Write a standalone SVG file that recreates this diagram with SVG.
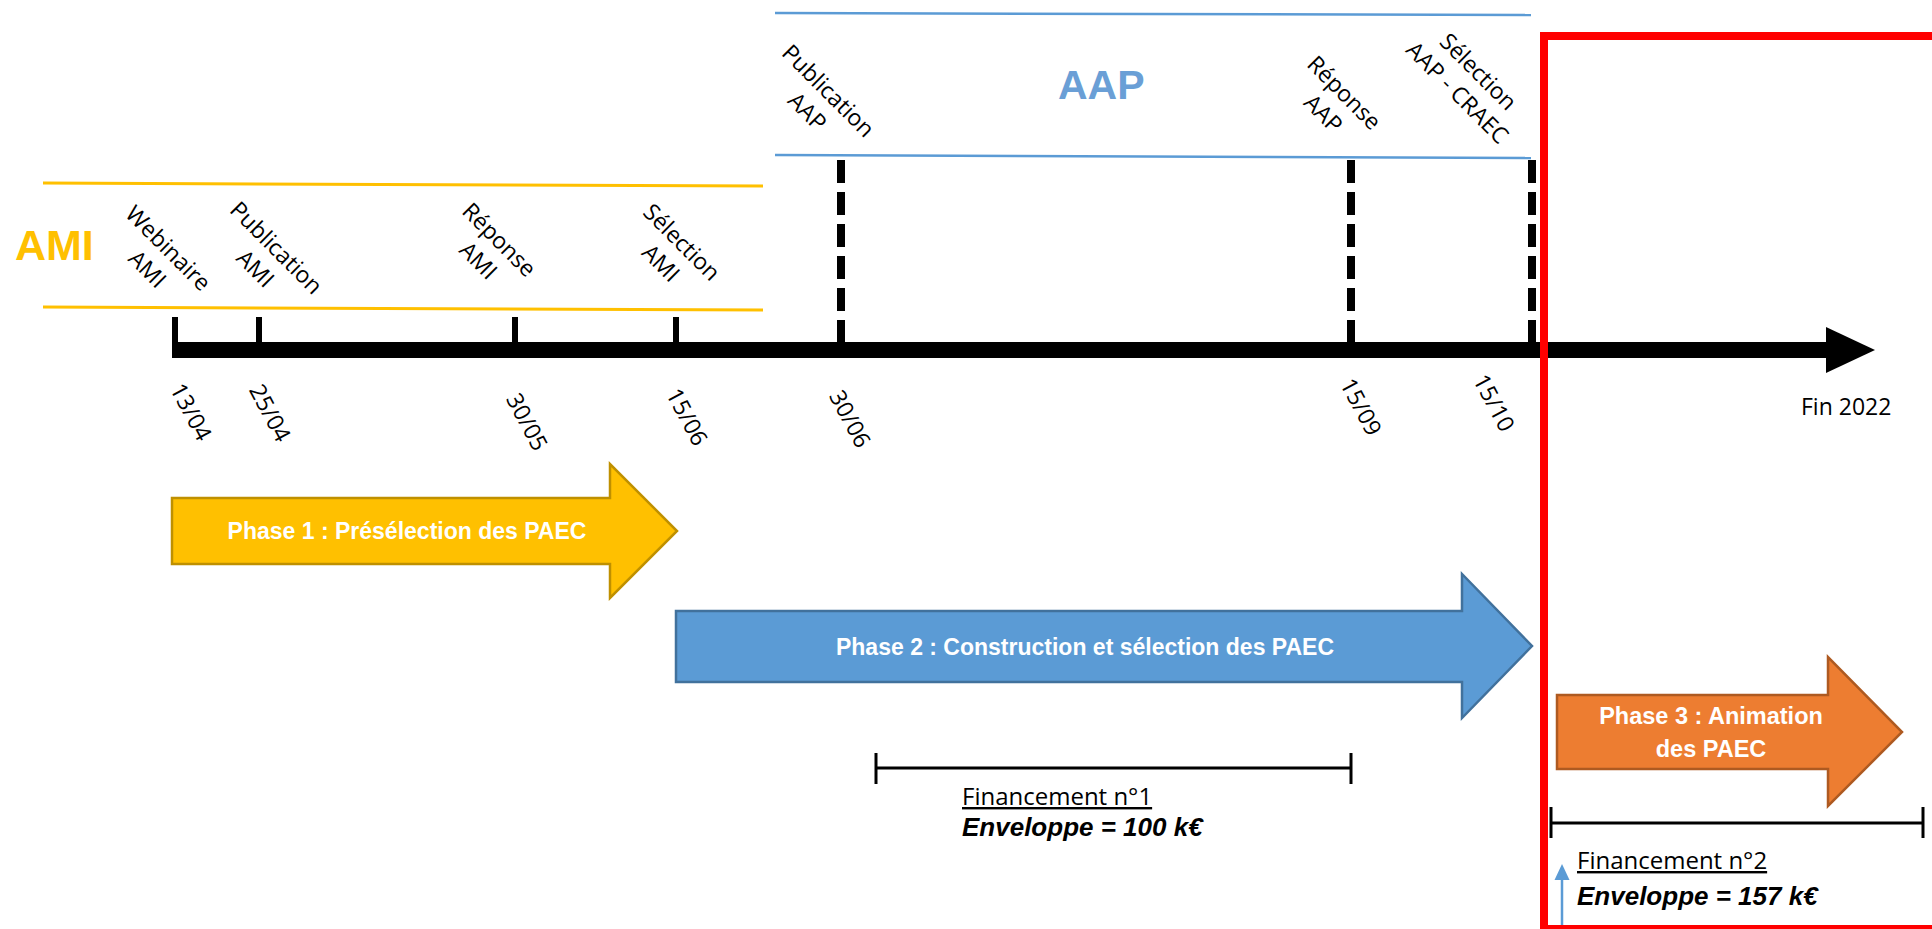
<svg xmlns="http://www.w3.org/2000/svg" width="1932" height="929" viewBox="0 0 1932 929">
<style>
.lbl{font-family:"Open Sans",sans-serif;font-size:23px;fill:#000;text-anchor:middle}
.date{font-family:"Open Sans",sans-serif;font-size:23px;fill:#000;text-anchor:middle}
.ph{font-family:"Liberation Sans",Arial,sans-serif;font-weight:bold;font-size:23px;fill:#fff;text-anchor:middle}
.fin{font-family:"Open Sans",sans-serif;font-size:24px;fill:#000;text-decoration:underline}
.env{font-family:"Liberation Sans",Arial,sans-serif;font-weight:bold;font-style:italic;font-size:26px;fill:#000}
.big{font-family:"Liberation Sans",Arial,sans-serif;font-weight:bold;font-size:41px}
.dash{stroke:#000;stroke-width:8;stroke-dasharray:23 9;fill:none}
.tick{stroke:#000;stroke-width:6;fill:none}
.br{stroke:#000;stroke-width:3;fill:none}
</style>

<g id="bands">
<line x1="43" y1="183" x2="763" y2="186" stroke="#ffc000" stroke-width="3"/>
<line x1="43" y1="307" x2="763" y2="310" stroke="#ffc000" stroke-width="3"/>
<text class="big" x="15" y="260" fill="#ffc000" style="font-size:43px">AMI</text>
<line x1="775" y1="13" x2="1531" y2="15" stroke="#5b9bd5" stroke-width="2.5"/>
<line x1="775" y1="155" x2="1531" y2="158" stroke="#5b9bd5" stroke-width="2.5"/>
<text class="big" x="1058" y="99" fill="#6a9fd6">AAP</text>
</g>

<g id="connectors">
<line class="dash" x1="841" y1="160" x2="841" y2="343"/>
<line class="dash" x1="1351" y1="160" x2="1351" y2="343"/>
<line class="dash" x1="1532" y1="160" x2="1532" y2="343"/>
<line class="tick" x1="175" y1="317" x2="175" y2="356"/>
<line class="tick" x1="259" y1="317" x2="259" y2="345"/>
<line class="tick" x1="515" y1="317" x2="515" y2="345"/>
<line class="tick" x1="676" y1="317" x2="676" y2="345"/>
<rect x="172" y="342" width="1656" height="16" fill="#000"/>
<polygon points="1826,327 1875,350 1826,373" fill="#000"/>
<line x1="876" y1="768" x2="1351" y2="768" class="br"/>
<line x1="876" y1="753" x2="876" y2="784" class="br"/>
<line x1="1351" y1="753" x2="1351" y2="784" class="br"/>
<line x1="1551" y1="823" x2="1923" y2="823" class="br"/>
<line x1="1551" y1="807" x2="1551" y2="838" class="br"/>
<line x1="1923" y1="807" x2="1923" y2="838" class="br"/>
<line x1="1562" y1="932" x2="1562" y2="878" stroke="#5b9bd5" stroke-width="2.5"/>
<polygon points="1554.5,880 1562,864 1569.5,880" fill="#5b9bd5"/>
</g>

<g id="label-webinaire" transform="translate(158,258.5) rotate(45)">
<text class="lbl" x="0" y="-6.5">Webinaire</text><text class="lbl" x="0" y="23">AMI</text>
</g>
<g id="label-publication-ami" transform="translate(266,258) rotate(45)">
<text class="lbl" x="0" y="-6.5">Publication</text><text class="lbl" x="0" y="23">AMI</text>
</g>
<g id="label-reponse-ami" transform="translate(489,250) rotate(45)">
<text class="lbl" x="0" y="-6.5">Réponse</text><text class="lbl" x="0" y="23">AMI</text>
</g>
<g id="label-selection-ami" transform="translate(671.5,252.5) rotate(45)">
<text class="lbl" x="0" y="-6.5">Sélection</text><text class="lbl" x="0" y="23">AMI</text>
</g>
<g id="label-publication-aap" transform="translate(818,101) rotate(45)">
<text class="lbl" x="0" y="-6.5">Publication</text><text class="lbl" x="0" y="23">AAP</text>
</g>
<g id="label-reponse-aap" transform="translate(1334,103) rotate(45)">
<text class="lbl" x="0" y="-6.5">Réponse</text><text class="lbl" x="0" y="23">AAP</text>
</g>
<g id="label-selection-aap" transform="translate(1468,82) rotate(45)">
<text class="lbl" x="0" y="-6.5">Sélection</text><text class="lbl" x="0" y="23">AAP - CRAEC</text>
</g>

<g id="dates">
<text class="date" transform="translate(191,412) rotate(62)" y="8">13/04</text>
<text class="date" transform="translate(270,413) rotate(62)" y="8">25/04</text>
<text class="date" transform="translate(527,422) rotate(62)" y="8">30/05</text>
<text class="date" transform="translate(687,417) rotate(62)" y="8">15/06</text>
<text class="date" transform="translate(850,419) rotate(62)" y="8">30/06</text>
<text class="date" transform="translate(1361,407) rotate(62)" y="8">15/09</text>
<text class="date" transform="translate(1494,403) rotate(62)" y="8">15/10</text>
<text x="1801" y="415" style="font-family:'Open Sans',sans-serif;font-size:23px">Fin 2022</text>
</g>

<g id="phase1">
<polygon points="172,498 610,498 610,464 677,531 610,598 610,564 172,564" fill="#ffc000" stroke="#bf9000" stroke-width="2.5"/>
<text class="ph" x="407" y="539">Phase 1 : Présélection des PAEC</text>
</g>
<g id="phase2">
<polygon points="676,611 1462,611 1462,574 1532,646 1462,718 1462,682 676,682" fill="#5b9bd5" stroke="#41719c" stroke-width="2.5"/>
<text class="ph" x="1085" y="655">Phase 2 : Construction et sélection des PAEC</text>
</g>
<g id="phase3">
<polygon points="1557,695 1828,695 1828,657 1902,732 1828,806 1828,769 1557,769" fill="#ed7d31" stroke="#ae5a21" stroke-width="2.5"/>
<text class="ph" x="1711" y="724" style="font-size:23.5px">Phase 3 : Animation</text>
<text class="ph" x="1711" y="757" style="font-size:23.5px">des PAEC</text>
</g>

<g id="financement1">
<text class="fin" x="962" y="805">Financement n°1</text>
<text class="env" x="962" y="836">Enveloppe = 100 k€</text>
</g>
<g id="financement2">
<text class="fin" x="1577" y="869">Financement n°2</text>
<text class="env" x="1577" y="905">Enveloppe = 157 k€</text>
</g>

<g id="focus-frame">
<rect x="1544" y="36" width="500" height="893" fill="none" stroke="#ff0000" stroke-width="8"/>
</g>
</svg>
